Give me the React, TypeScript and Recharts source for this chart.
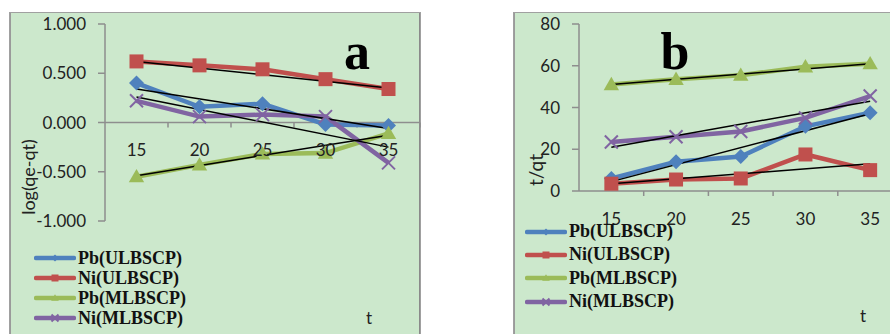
import React from 'react';
import { LineChart, Line, XAxis, YAxis, ReferenceLine, Legend } from 'recharts';

const times = [15, 20, 25, 30, 35];
const seriesNames = ['Pb(ULBSCP)', 'Ni(ULBSCP)', 'Pb(MLBSCP)', 'Ni(MLBSCP)'];

// panel a: log(qe-qt)
const logPbU = [0.4, 0.16, 0.19, -0.02, -0.03];
const logNiU = [0.62, 0.58, 0.54, 0.44, 0.34];
const logPbM = [-0.55, -0.43, -0.32, -0.31, -0.11];
const logNiM = [0.22, 0.06, 0.08, 0.06, -0.41];
// trendline ends at t=15 and t=35
const fitLogPbU = [0.34, -0.06];
const fitLogNiU = [0.62, 0.35];
const fitLogPbM = [-0.54, -0.13];
const fitLogNiM = [0.26, -0.25];
const ticksA = [-1, -0.5, 0, 0.5, 1];

// panel b: t/qt
const tqPbU = [6, 14, 16.5, 31, 37.5];
const tqNiU = [3.5, 5.5, 6, 17.5, 10];
const tqPbM = [51, 53.5, 55.5, 59.5, 61];
const tqNiM = [23.5, 26, 28.5, 35, 45.5];
const fitTqPbU = [4.5, 37];
const fitTqNiU = [3.5, 13];
const fitTqPbM = [51, 61];
const fitTqNiM = [21, 43];
const ticksB = [0, 20, 40, 60, 80];

const looks = [
  { color: '#4F81BD', kind: 'diamond', size: 7.5 },
  { color: '#C0504D', kind: 'square', size: 7 },
  { color: '#9BBB59', kind: 'triangle', size: 7 },
  { color: '#8064A2', kind: 'cross', size: 6.5 },
];

const SANS = 'Lato, "Liberation Sans", sans-serif';
const SERIF = '"Liberation Serif", "DejaVu Serif", serif';
const BG = '#CCE8CC';
const AXIS = '#8E8E8E';

const ends = (fit: number[], i: number) =>
  i === 0 ? fit[0] : i === times.length - 1 ? fit[1] : null;

const buildRows = (vals: number[][], fits: number[][]) =>
  times.map((t, i) => {
    const row: Record<string, number | null> = { t };
    vals.forEach((v, k) => {
      row['s' + k] = v[i];
      row['f' + k] = ends(fits[k], i);
    });
    return row;
  });

const rowsA = buildRows([logPbU, logNiU, logPbM, logNiM], [fitLogPbU, fitLogNiU, fitLogPbM, fitLogNiM]);
const rowsB = buildRows([tqPbU, tqNiU, tqPbM, tqNiM], [fitTqPbU, fitTqNiU, fitTqPbM, fitTqNiM]);

const Marker = ({ kind, color, cx, cy, s }: any) => {
  if (cx == null || cy == null) return null;
  if (kind === 'diamond')
    return <polygon points={`${cx},${cy - s} ${cx + s},${cy} ${cx},${cy + s} ${cx - s},${cy}`} fill={color} />;
  if (kind === 'square')
    return <rect x={cx - s} y={cy - s} width={2 * s} height={2 * s} fill={color} />;
  if (kind === 'triangle')
    return <polygon points={`${cx},${cy - s * 1.1} ${cx + s * 1.1},${cy + s * 0.8} ${cx - s * 1.1},${cy + s * 0.8}`} fill={color} />;
  return (
    <g stroke={color} strokeWidth={2}>
      <line x1={cx - s} y1={cy - s} x2={cx + s} y2={cy + s} />
      <line x1={cx - s} y1={cy + s} x2={cx + s} y2={cy - s} />
    </g>
  );
};

// zero line with tick marks between categories
const ZeroAxis = (p: any) => {
  const a = Math.min(p.x1, p.x2);
  const b = Math.max(p.x1, p.x2);
  const step = (b - a) / times.length;
  return (
    <g>
      <line x1={a} y1={p.y1} x2={b} y2={p.y1} stroke={AXIS} strokeWidth={1.5} />
      {times.map((t, i) => (
        <line key={t} x1={a + step * (i + 1)} y1={p.y1} x2={a + step * (i + 1)} y2={p.y1 + 5} stroke={AXIS} strokeWidth={1.5} />
      ))}
    </g>
  );
};

const LegendBox = ({ gap }: { gap: number }) => (
  <div>
    {seriesNames.map((name, k) => (
      <div key={name} style={{ display: 'flex', alignItems: 'center', height: gap }}>
        <svg width={42} height={12}>
          <line x1={2} y1={6} x2={40} y2={6} stroke={looks[k].color} strokeWidth={4.5} strokeLinecap="round" />
          <Marker kind={looks[k].kind} color={looks[k].color} cx={21} cy={6} s={3.5} />
        </svg>
        <span style={{ font: `bold 18px ${SERIF}`, color: '#111', marginLeft: 2, whiteSpace: 'nowrap' }}>{name}</span>
      </div>
    ))}
  </div>
);

type PanelProps = {
  rows: any[];
  left: number;
  width: number;
  chartWidth: number;
  domain: [number, number];
  ticks: number[];
  fmt: (v: number) => string;
  margin: { top: number; right: number; left: number; bottom: number };
  padX: number;
  yTitle: string;
  yTitlePos: [number, number];
  yTitleSize: number;
  tPos: [number, number];
  legendPos: [number, number];
  legendGap: number;
  tag: string;
  tagPos: [number, number];
};

const H = 322;
const X_H = 30;

const Panel = (p: PanelProps) => {
  const plotH = H - p.margin.top - p.margin.bottom - X_H;
  const zeroY = p.margin.top + (plotH * p.domain[1]) / (p.domain[1] - p.domain[0]);
  const XTick = ({ x, payload }: any) => (
    <text x={x} y={zeroY + 27} textAnchor="middle" dominantBaseline="central" fontFamily={SANS} fontSize={17} fill="#222">
      {payload.value}
    </text>
  );
  return (
    <div
      style={{
        position: 'absolute',
        left: p.left,
        top: 12,
        width: p.width,
        height: 340,
        background: BG,
        boxShadow: 'inset 0 0 0 1px #A0A0A0, inset -2px 0 0 #8A8A8A, inset 2px 0 0 #9A9A9A',
      }}
    >
      <LineChart width={p.chartWidth} height={H} data={p.rows} margin={p.margin}>
        <XAxis
          dataKey="t"
          height={X_H}
          padding={{ left: p.padX, right: p.padX }}
          axisLine={false}
          tickLine={false}
          tick={XTick}
          interval={0}
          label={() => (
            <text x={p.tPos[0]} y={p.tPos[1]} textAnchor="middle" dominantBaseline="central" fontFamily={SANS} fontSize={17} fill="#222">
              t
            </text>
          )}
        />
        <YAxis
          width={60}
          domain={p.domain}
          ticks={p.ticks}
          tickFormatter={p.fmt}
          interval={0}
          axisLine={{ stroke: AXIS, strokeWidth: 1.5 }}
          tickLine={{ stroke: AXIS, strokeWidth: 1.5 }}
          tickSize={7}
          tickMargin={12}
          tick={{ fontFamily: SANS, fontSize: 17, fill: '#222' }}
          label={() => (
            <text
              transform={`translate(${p.yTitlePos[0]},${p.yTitlePos[1]}) rotate(-90)`}
              textAnchor="middle"
              dominantBaseline="central"
              fontFamily={SANS}
              fontSize={p.yTitleSize}
              fill="#222"
            >
              {p.yTitle}
            </text>
          )}
        />
        <ReferenceLine y={0} shape={ZeroAxis} />
        {looks.map((l, k) => (
          <Line
            key={'s' + k}
            dataKey={'s' + k}
            name={seriesNames[k]}
            stroke={l.color}
            strokeWidth={4.5}
            dot={(d: any) => <Marker key={d.index} kind={l.kind} color={l.color} cx={d.cx} cy={d.cy} s={l.size} />}
            activeDot={false}
            isAnimationActive={false}
          />
        ))}
        {looks.map((l, k) => (
          <Line
            key={'f' + k}
            dataKey={'f' + k}
            stroke="#000"
            strokeWidth={1.5}
            dot={false}
            activeDot={false}
            connectNulls
            legendType="none"
            isAnimationActive={false}
          />
        ))}
        <Legend
          layout="vertical"
          align="center"
          verticalAlign="middle"
          content={() => <LegendBox gap={p.legendGap} />}
          wrapperStyle={{ left: p.legendPos[0], top: p.legendPos[1], width: 220, height: 'auto' }}
        />
      </LineChart>
      <div
        style={{
          position: 'absolute',
          left: p.tagPos[0] - 30,
          top: p.tagPos[1] - 46,
          width: 60,
          textAlign: 'center',
          font: `bold 52px ${SERIF}`,
          lineHeight: '52px',
          color: '#000',
        }}
      >
        {p.tag}
      </div>
    </div>
  );
};

export default function App() {
  return (
    <div style={{ position: 'absolute', left: 0, top: 0, width: 890, height: 334, overflow: 'hidden', background: '#fff' }}>
      <Panel
        rows={rowsA}
        left={9}
        width={412}
        chartWidth={412}
        domain={[-1, 1]}
        ticks={ticksA}
        fmt={(v) => v.toFixed(3)}
        margin={{ top: 12, right: 1, left: 36, bottom: 83 }}
        padX={31.5}
        yTitle="log(qe-qt)"
        yTitlePos={[19, 165]}
        yTitleSize={18}
        tPos={[360, 305]}
        legendPos={[25, 236]}
        legendGap={20}
        tag="a"
        tagPos={[348, 60]}
      />
      <Panel
        rows={rowsB}
        left={513}
        width={392}
        chartWidth={392}
        domain={[0, 80]}
        ticks={ticksB}
        fmt={(v) => String(v)}
        margin={{ top: 12, right: 2.5, left: 6, bottom: 113 }}
        padX={32.35}
        yTitle="t/qt"
        yTitlePos={[22, 158]}
        yTitleSize={19}
        tPos={[350, 303]}
        legendPos={[12, 208]}
        legendGap={23.3}
        tag="b"
        tagPos={[162, 60]}
      />
    </div>
  );
}
